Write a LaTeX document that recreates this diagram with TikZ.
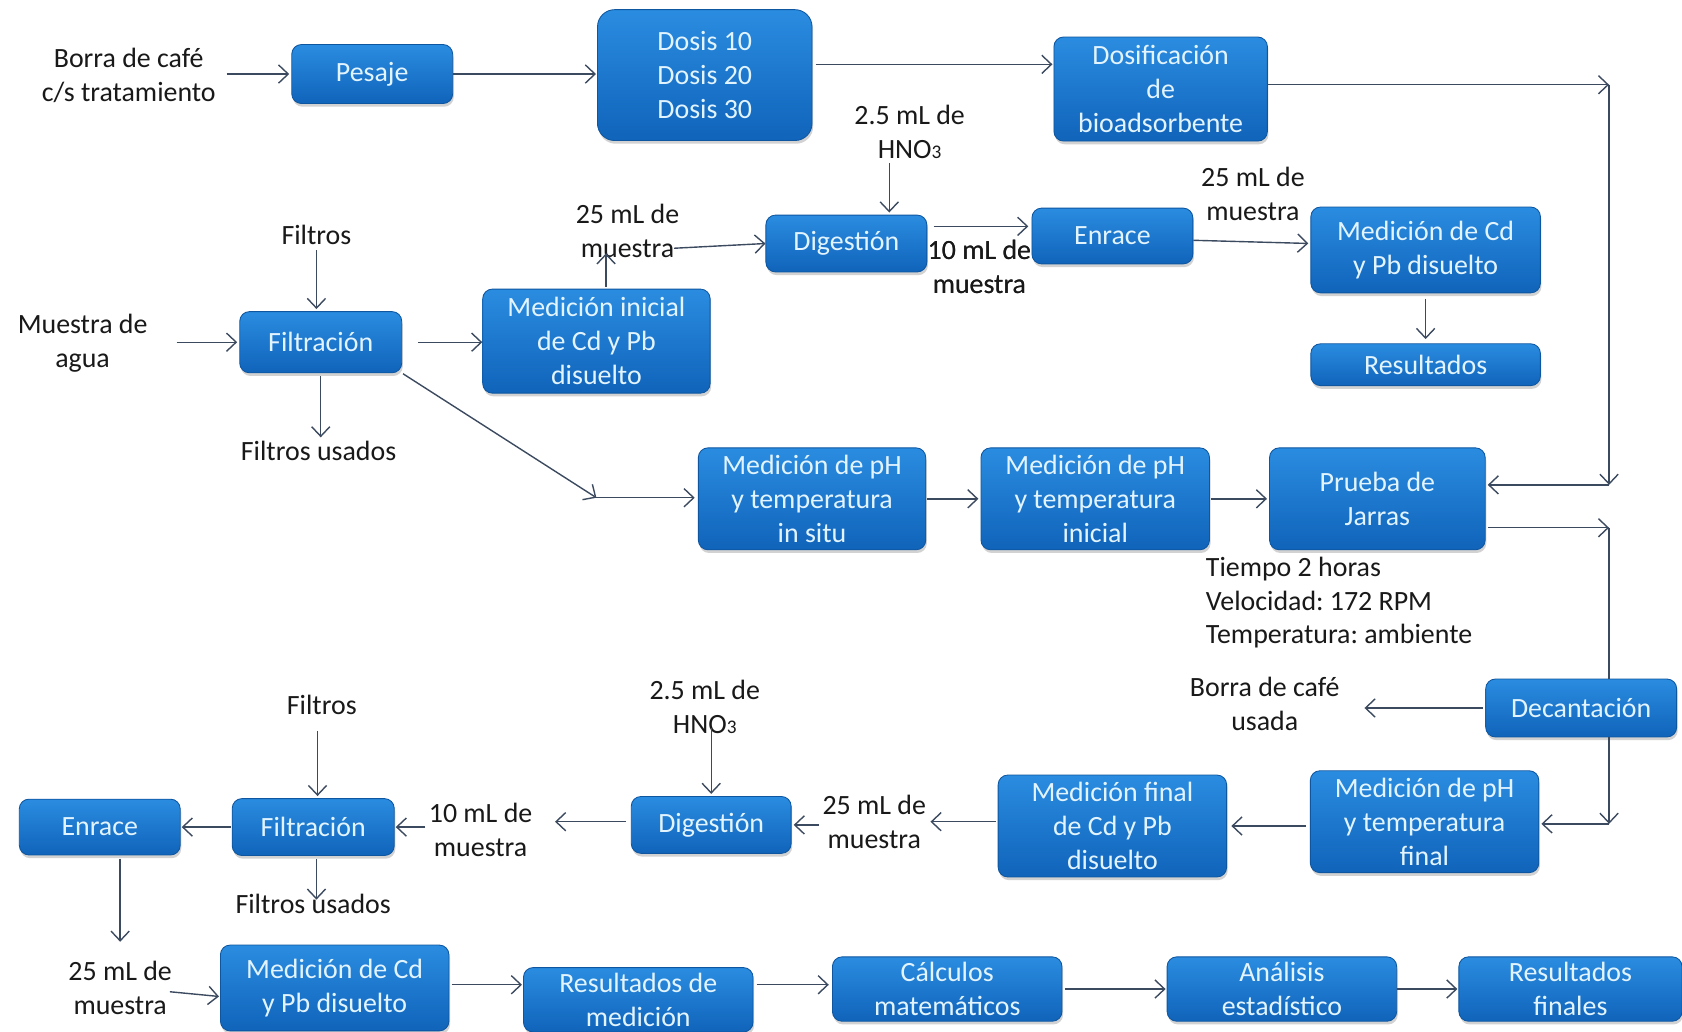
\documentclass[tikz,border=0pt]{standalone}
\usepackage{fontspec}
\setmainfont{Carlito}
\usetikzlibrary{arrows.meta,shadows,calc}

\definecolor{boxtop}{RGB}{42,140,224}
\definecolor{boxbot}{RGB}{16,100,186}
\definecolor{boxedge}{RGB}{14,86,160}
\definecolor{boxtext}{RGB}{226,244,255}
\definecolor{linec}{RGB}{60,74,96}
\definecolor{inkc}{RGB}{25,25,25}

\newcommand{\nitric}{HNO{\fontsize{18pt}{18pt}\selectfont 3}}
\frenchspacing

\tikzset{
  proc/.style={rounded corners=9pt, draw=boxedge, line width=0.8pt,
    top color=boxtop, bottom color=boxbot, text=boxtext, align=center,
    inner sep=0pt, font=\fontsize{26pt}{31.5pt}\selectfont,
    drop shadow={shadow xshift=1pt, shadow yshift=-3pt, opacity=0.35}},
  lbl/.style={align=center, inner sep=3pt, text=inkc,
    font=\fontsize{26pt}{31.5pt}\selectfont},
  flow/.style={draw=linec, line width=1.3pt,
    -{Straight Barb[length=9pt,width=17pt,line width=1.3pt]}},
  wire/.style={draw=linec, line width=1.3pt},
}

\begin{document}
\begin{tikzpicture}[x=1pt, y=-1pt]
\useasboundingbox (0,0) rectangle (1568,962);
\fill[white] (0,0) rectangle (1568,962);

% ---------- coffee-ground branch ----------
\node[lbl] (borra) at (120,70) {Borra de café\\c/s tratamiento};
\node[proc, minimum width=150pt, minimum height=55pt] (pesaje) at (347,69) {Pesaje};
\node[proc, rounded corners=16pt, minimum width=200pt, minimum height=122pt] (dosis) at (657,70) {Dosis 10\\Dosis 20\\Dosis 30};
\node[proc, minimum width=199pt, minimum height=97pt] (dosif) at (1082,83) {Dosificación\\de\\bioadsorbente};
\coordinate (c1) at (1500,79);
\coordinate (c2) at (1500,452);

% ---------- water sample, initial measurement ----------
\node[lbl] (filtrosA) at (295,219) {Filtros};
\node[lbl] (muestra) at (77,320) {Muestra de\\agua};
\node[proc, minimum width=151pt, minimum height=57pt] (filtA) at (299,319) {Filtración};
\node[proc, minimum width=212pt, minimum height=97pt] (medini) at (556,318) {Medición inicial\\de Cd y Pb\\disuelto};
\node[lbl] (m25a) at (585,215) {25 mL de\\muestra};
\node[proc, minimum width=150pt, minimum height=53pt] (digA) at (789,227) {Digestión};
\node[lbl] (hnoA) at (848,123) {2.5 mL de\\\nitric};
\node[proc, minimum width=150pt, minimum height=52pt] (enrA) at (1037,220) {Enrace};
\node[lbl] (m10a) at (913,249) {10 mL de\\muestra};
\node[lbl] (m25b) at (1168,181) {25 mL de\\muestra};
\node[proc, minimum width=214pt, minimum height=80pt] (medcdA) at (1329,233) {Medición de Cd\\y Pb disuelto};
\node[proc, minimum width=214pt, minimum height=39pt] (resA) at (1329,340) {Resultados};
\node[lbl] (usadosA) at (297,420) {Filtros usados};
\coordinate (c3) at (556,464);

% ---------- jar test ----------
\node[proc, minimum width=212pt, minimum height=95pt] (phA) at (757,465) {Medición de pH\\y temperatura\\in situ};
\node[proc, minimum width=213pt, minimum height=95pt] (phB) at (1021,465) {Medición de pH\\y temperatura\\inicial};
\node[proc, minimum width=201pt, minimum height=95pt] (jarras) at (1284,465) {Prueba de\\Jarras};
\node[lbl, align=left, anchor=north west] (cond) at (1121,516) {Tiempo 2 horas\\Velocidad: 172 RPM\\Temperatura: ambiente};
\coordinate (c4) at (1500,492);
\node[proc, minimum width=178pt, minimum height=54pt] (decant) at (1474,660) {Decantación};
\node[lbl] (borraU) at (1179,656) {Borra de café\\usada};
\coordinate (c5) at (1500,768);

% ---------- final measurement ----------
\node[proc, minimum width=213pt, minimum height=95pt] (phC) at (1328,766) {Medición de pH\\y temperatura\\final};
\node[proc, minimum width=213pt, minimum height=95pt] (medfin) at (1037,770) {Medición final\\de Cd y Pb\\disuelto};
\node[lbl] (m25c) at (815,766) {25 mL de\\muestra};
\node[proc, minimum width=149pt, minimum height=53pt] (digB) at (663,769) {Digestión};
\node[lbl] (hnoB) at (657,659) {2.5 mL de\\\nitric};
\node[lbl] (m10b) at (448,774) {10 mL de\\muestra};
\node[proc, minimum width=151pt, minimum height=53pt] (filtB) at (292,771) {Filtración};
\node[lbl] (filtrosB) at (300,657) {Filtros};
\node[lbl] (usadosB) at (292,843) {Filtros usados};
\node[proc, minimum width=150pt, minimum height=52pt] (enrB) at (93,771) {Enrace};
\node[lbl] (m25d) at (112,921) {25 mL de\\muestra};
\node[proc, minimum width=213pt, minimum height=80pt] (medcdB) at (312,921) {Medición de Cd\\y Pb disuelto};
\node[proc, minimum width=214pt, minimum height=60pt] (resmed) at (595,932) {Resultados de\\medición};
\node[proc, minimum width=214pt, minimum height=60pt] (calc) at (883,922) {Cálculos\\matemáticos};
\node[proc, minimum width=214pt, minimum height=60pt] (anal) at (1195,922) {Análisis\\estadístico};
\node[proc, minimum width=208pt, minimum height=60pt] (resfin) at (1464,922) {Resultados\\finales};

% ---------- connectors: top row ----------
\draw[flow, shorten <=7pt, shorten >=2pt] (borra.east |- pesaje.west) -- (pesaje.west);
\draw[flow, shorten >=1pt] (pesaje.east) -- (pesaje.east -| dosis.west);
\draw[flow, shorten <=3pt, shorten >=1pt] ([yshift=10pt]dosis.east) -- ([yshift=10pt]dosis.east -| dosif.west);
\draw[flow] (dosif.east |- c1) -- (c1);
\draw[flow] (c1) -- (c2);
\draw[flow, shorten >=2pt] (c2) -- (c2 -| jarras.east);

% ---------- connectors: initial measurement ----------
\draw[flow, shorten <=2pt, shorten >=2pt] (filtrosA.south) -- (filtrosA.south |- filtA.north);
\draw[flow, shorten <=24pt, shorten >=2pt] (muestra.east |- filtA.west) -- (filtA.west);
\draw[flow, shorten <=15pt] (filtA.east) -- (filtA.east -| medini.west);
\draw[flow, shorten <=2pt] ([xshift=9pt]medini.north) -- ++(0,-33);
\draw[flow, shorten <=-8pt] ([yshift=-16pt]m25a.east) -- (digA.west);
\draw[flow, shorten <=1pt, shorten >=2pt] ([xshift=40pt]digA.north |- hnoA.south) -- ([xshift=40pt]digA.north);
\draw[flow, shorten <=6pt, shorten >=3pt] ([yshift=9pt]enrA.west -| digA.east) -- ([yshift=9pt]enrA.west);
\draw[flow, shorten >=2pt] ([yshift=-4pt]enrA.east) -- ([yshift=6pt]medcdA.west);
\draw[flow, shorten <=5pt, shorten >=4pt] (medcdA.south) -- (resA.north);
\draw[flow, shorten <=3pt] (filtA.south) -- (filtA.south |- usadosA.north);
\draw[flow, shorten <=1pt] (filtA.south east) -- (c3);
\draw[flow, shorten >=3pt] (c3) -- (c3 -| phA.west);

% ---------- connectors: jar test ----------
\draw[flow, shorten <=1pt, shorten >=2pt] (phA.east) -- (phB.west);
\draw[flow, shorten <=1pt, shorten >=2pt] (phB.east) -- (jarras.west);
\draw[flow, shorten <=2pt] (jarras.east |- c4) -- (c4);
\draw[wire] (c4) -- (c4 |- decant.north);
\draw[flow] (c5 |- decant.south) -- (c5);
\draw[flow, shorten >=2pt] (c5) -- (c5 -| phC.east);
\draw[flow, shorten <=2pt, shorten >=20pt] (decant.west) -- (decant.west -| borraU.east);

% ---------- connectors: final measurement ----------
\draw[flow, shorten <=4pt, shorten >=4pt] (phC.west |- medfin.east) -- (medfin.east);
\draw[flow, shorten <=2pt, shorten >=1pt] (medfin.west |- m25c.east) -- (m25c.east);
\draw[flow, shorten >=2pt] (m25c.west |- digB.east) -- (digB.east);
\draw[flow, shorten <=-8pt, shorten >=2pt] (digB.north |- hnoB.south) -- (digB.north);
\draw[flow, shorten <=5pt, shorten >=18pt] ([yshift=3pt]digB.west) -- ([yshift=3pt]digB.west -| m10b.east);
\draw[flow, shorten >=1pt] (m10b.west |- filtB.east) -- (filtB.east);
\draw[flow, shorten <=12pt, shorten >=2pt] ([xshift=4pt]filtB.north |- filtrosB.south) -- ([xshift=4pt]filtB.north);
\draw[flow, shorten <=3pt, shorten >=-8pt] ([xshift=3pt]filtB.south) -- ([xshift=3pt]filtB.south |- usadosB.north);
\draw[flow, shorten <=1pt, shorten >=1pt] (filtB.west) -- (enrB.east);
\draw[flow, shorten <=3pt, shorten >=15pt] ([xshift=19pt]enrB.south) -- ([xshift=19pt]enrB.south |- m25d.north);
\draw[flow, shorten <=-5pt, shorten >=1pt] ([yshift=-4pt]m25d.east) -- ([yshift=-8pt]medcdB.west);
\draw[flow, shorten <=2pt, shorten >=1pt] ([yshift=3pt]medcdB.east) -- ([yshift=3pt]medcdB.east -| resmed.west);
\draw[flow, shorten <=3pt, shorten >=3pt] ([yshift=4pt]calc.west -| resmed.east) -- ([yshift=4pt]calc.west);
\draw[flow, shorten <=2pt, shorten >=1pt] (calc.east) -- (anal.west);
\draw[flow, shorten >=1pt] (anal.east) -- (resfin.west);

% labels that overlap a box edge are set again on top
\node[lbl] at (m10a) {10 mL de\\muestra};
\end{tikzpicture}
\end{document}
